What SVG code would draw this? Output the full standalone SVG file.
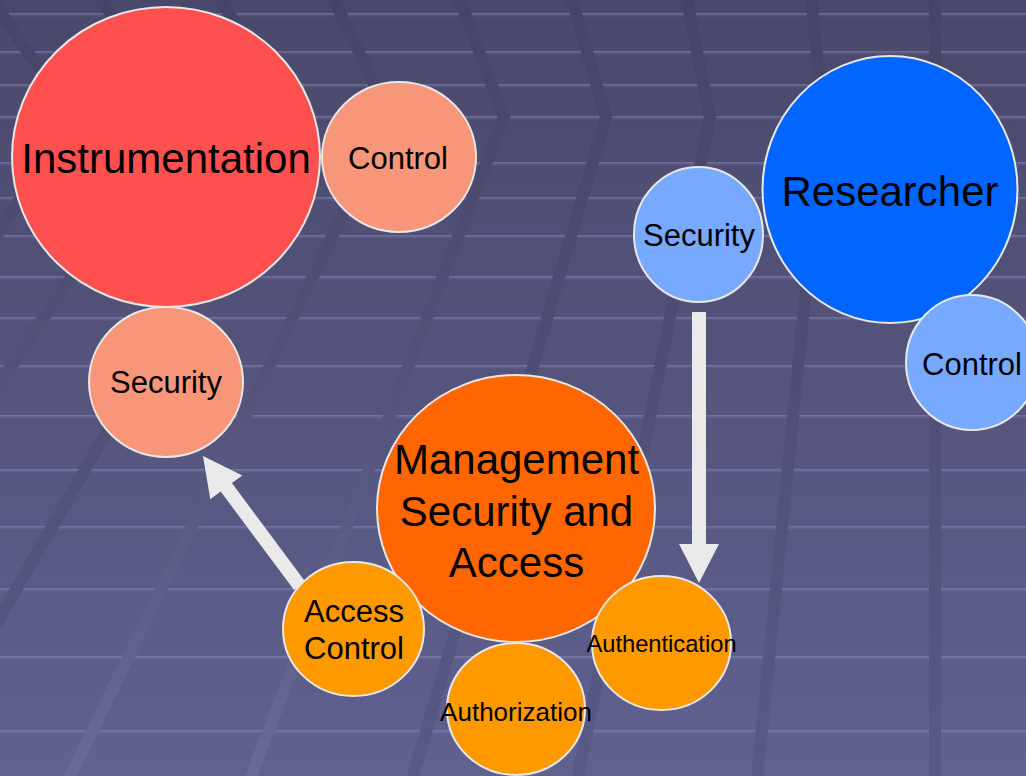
<svg xmlns="http://www.w3.org/2000/svg" width="1026" height="776" viewBox="0 0 1026 776">
  <defs>
    <linearGradient id="bg" gradientUnits="userSpaceOnUse" x1="0" y1="0" x2="0" y2="776">
      <stop offset="0" stop-color="#4a486a"/>
      <stop offset="1" stop-color="#5f618f"/>
    </linearGradient>
    <linearGradient id="hl" x1="0" y1="0" x2="0" y2="1">
      <stop offset="0" stop-color="#9a9ad0" stop-opacity="0.48"/>
      <stop offset="0.5" stop-color="#8a8ac4" stop-opacity="0.25"/>
      <stop offset="1" stop-color="#8a8ac4" stop-opacity="0"/>
    </linearGradient>
    <linearGradient id="tintL" gradientUnits="userSpaceOnUse" x1="0" y1="0" x2="0" y2="776">
      <stop offset="0" stop-color="#282846" stop-opacity="0.13"/>
      <stop offset="0.45" stop-color="#282846" stop-opacity="0.05"/>
      <stop offset="1" stop-color="#ffffff" stop-opacity="0.06"/>
    </linearGradient>
  </defs>
  <style>
    .band-erase { fill: none; stroke: url(#bg); stroke-width: 12; stroke-linejoin: miter; }
    .band-dark { fill: none; stroke: #282846; stroke-opacity: 0.12; stroke-width: 12; stroke-linejoin: miter; }
    .band-light { fill: none; stroke: url(#tintL); stroke-width: 12; stroke-linejoin: miter; }
    .hline { fill: url(#hl); }
    .node { stroke: #e8e8e8; stroke-width: 2; }
    .red { fill: #ff5050; }
    .salmon { fill: #f8967a; }
    .blue { fill: #0066ff; }
    .lblue { fill: #77aaff; }
    .orange { fill: #ff6600; }
    .amber { fill: #ff9900; }
    .arrow { fill: #eaeaea; }
    text { font-family: "Liberation Sans", Arial, sans-serif; fill: #000; text-anchor: middle; }
    .big { font-size: 42px; }
    .mid { font-size: 31px; }
  </style>

  <g id="background">
    <rect x="0" y="0" width="1026" height="776" fill="url(#bg)"/>
    <g id="hlines">
      <rect class="hline" x="0" y="13" width="1026" height="4"/>
      <rect class="hline" x="0" y="51" width="1026" height="4"/>
      <rect class="hline" x="0" y="84" width="1026" height="4"/>
      <rect class="hline" x="0" y="116" width="1026" height="4"/>
      <rect class="hline" x="0" y="162" width="1026" height="4"/>
      <rect class="hline" x="0" y="197" width="1026" height="4"/>
      <rect class="hline" x="0" y="235" width="1026" height="4"/>
      <rect class="hline" x="0" y="276" width="1026" height="4"/>
      <rect class="hline" x="0" y="317" width="1026" height="4"/>
      <rect class="hline" x="0" y="365" width="1026" height="4"/>
      <rect class="hline" x="0" y="415" width="1026" height="4"/>
      <rect class="hline" x="0" y="469" width="1026" height="4"/>
      <rect class="hline" x="0" y="526" width="1026" height="4"/>
      <rect class="hline" x="0" y="588" width="1026" height="4"/>
      <rect class="hline" x="0" y="656" width="1026" height="4"/>
      <rect class="hline" x="0" y="730" width="1026" height="4"/>
    </g>
    <g id="bands">
      <path class="band-erase" d="M935,-5 L935,781"/>
      <path class="band-erase" d="M811.3,-2 L823,117 L756.9,780"/>
      <path class="band-erase" d="M686.4,-2 L710,117 L577.3,780"/>
      <path class="band-erase" d="M571.5,-2 L606,117 L411.9,780"/>
      <path class="band-erase" d="M458.9,-2 L504,117 L249.7,780"/>
      <path class="band-erase" d="M333,-2 L390,117 L68.5,780"/>
      <path class="band-erase" d="M220.3,-2 L288,117 L-93.7,780"/>
      <path class="band-erase" d="M99.9,-2 L179,117 L-267,780"/>
      <path class="band-erase" d="M-20,-18 L72,117 L-20,262"/>
      <path class="band-dark" d="M935,-5 L935,781"/>
      <path class="band-dark" d="M811.3,-2 L823,117 L756.9,780"/>
      <path class="band-dark" d="M686.4,-2 L710,117 L577.3,780"/>
      <path class="band-dark" d="M571.5,-2 L606,117 L411.9,780"/>
      <path class="band-light" d="M458.9,-2 L504,117 L249.7,780"/>
      <path class="band-light" d="M333,-2 L390,117 L68.5,780"/>
      <path class="band-dark" d="M220.3,-2 L288,117 L-93.7,780"/>
      <path class="band-light" d="M99.9,-2 L179,117 L-267,780"/>
      <path class="band-light" d="M-20,-18 L72,117 L-20,262"/>
    </g>
  </g>

  <g id="connectors">
    <polygon id="arrow-security-authentication" class="arrow" points="692,312 706,312 706,544 719,544 699,583 679,544 692,544"/>
    <polygon id="arrow-accesscontrol-security" class="arrow" points="305.3,581.7 231.9,483.1 242.3,475.4 203,456 210.3,499.2 220.7,491.5 294.1,590.1"/>
  </g>

  <g id="node-instrumentation">
    <ellipse class="node red" cx="166" cy="157" rx="154" ry="150"/>
    <text class="big" x="166" y="173">Instrumentation</text>
  </g>
  <g id="node-instr-control">
    <ellipse class="node salmon" cx="399" cy="157" rx="77" ry="75"/>
    <text class="mid" x="398" y="169">Control</text>
  </g>
  <g id="node-instr-security">
    <ellipse class="node salmon" cx="166" cy="382" rx="77" ry="75"/>
    <text class="mid" x="166" y="393">Security</text>
  </g>

  <g id="node-researcher">
    <ellipse class="node blue" cx="890" cy="189.5" rx="127.5" ry="133.5"/>
    <text class="big" x="890" y="206">Researcher</text>
  </g>
  <g id="node-res-security">
    <ellipse class="node lblue" cx="698.5" cy="234.5" rx="64.5" ry="67.5"/>
    <text class="mid" x="699" y="246">Security</text>
  </g>
  <g id="node-res-control">
    <ellipse class="node lblue" cx="972" cy="362.5" rx="66" ry="67.5"/>
    <text class="mid" x="972" y="375">Control</text>
  </g>

  <g id="node-management">
    <ellipse class="node orange" cx="516" cy="508.5" rx="139" ry="133.5"/>
    <text class="big" x="516.5" y="474">Management</text>
    <text class="big" x="516.5" y="526">Security and</text>
    <text class="big" x="516.5" y="577">Access</text>
  </g>
  <g id="node-access-control">
    <ellipse class="node amber" cx="353.5" cy="629" rx="70.5" ry="67"/>
    <text class="mid" x="354" y="622">Access</text>
    <text class="mid" x="354" y="659">Control</text>
  </g>
  <g id="node-authorization">
    <ellipse class="node amber" cx="516" cy="709" rx="69" ry="66"/>
    <text x="516" y="721" font-size="26">Authorization</text>
  </g>
  <g id="node-authentication">
    <ellipse class="node amber" cx="661.5" cy="643" rx="69.5" ry="67"/>
    <text x="661.5" y="652" font-size="23.7">Authentication</text>
  </g>
</svg>
